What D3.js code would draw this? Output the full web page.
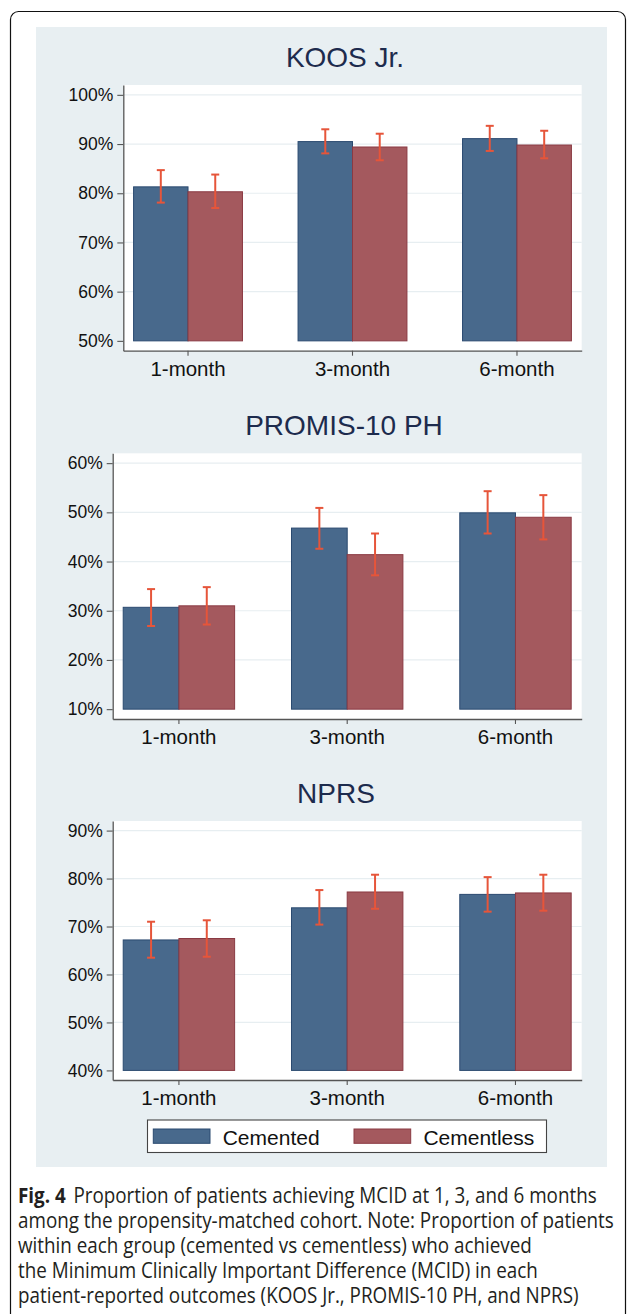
<!DOCTYPE html>
<html>
<head>
<meta charset="utf-8">
<script src="https://cdn.jsdelivr.net/npm/d3@7"></script>
<style>
  body { margin: 0; background: #fff; }
  svg text { font-family: "Liberation Sans", Arial, Helvetica, sans-serif; }
</style>
</head>
<body>
<div id="chart"></div>
<script>
// categories and series
var months = ["1-month", "3-month", "6-month"];
var groups = ["Cemented", "Cementless"];

// KOOS Jr. (percent achieving MCID, with 95% CI)
var koosCemented = [81.3, 90.5, 91.1];
var koosCementedLo = [78.1, 88.1, 88.6];
var koosCementedHi = [84.7, 93.0, 93.7];
var koosCementless = [80.3, 89.4, 89.8];
var koosCementlessLo = [77.0, 86.7, 87.1];
var koosCementlessHi = [83.8, 92.1, 92.7];
var koosTicks = [50, 60, 70, 80, 90, 100];

// PROMIS-10 PH
var promisCemented = [30.7, 46.8, 49.9];
var promisCementedLo = [26.9, 42.6, 45.7];
var promisCementedHi = [34.4, 50.9, 54.3];
var promisCementless = [31.0, 41.4, 49.0];
var promisCementlessLo = [27.2, 37.2, 44.5];
var promisCementlessHi = [34.8, 45.7, 53.5];
var promisTicks = [10, 20, 30, 40, 50, 60];

// NPRS
var nprsCemented = [67.2, 73.9, 76.7];
var nprsCementedLo = [63.5, 70.4, 73.1];
var nprsCementedHi = [71.0, 77.6, 80.3];
var nprsCementless = [67.5, 77.2, 77.0];
var nprsCementlessLo = [63.7, 73.7, 73.3];
var nprsCementlessHi = [71.3, 80.8, 80.8];
var nprsTicks = [40, 50, 60, 70, 80, 90];

var captionLines = [
  "among the propensity-matched cohort. Note: Proportion of patients",
  "within each group (cemented vs cementless) who achieved",
  "the Minimum Clinically Important Difference (MCID) in each",
  "patient-reported outcomes (KOOS Jr., PROMIS-10 PH, and NPRS)"
];

var svgW = 629;
var svgH = 1314;

var fillColor = { "Cemented": "#48698c", "Cementless": "#a4595e" };
var edgeColor = { "Cemented": "#2b4a70", "Cementless": "#8a3a43" };
var ciColor = "#e6553a";

var svg = d3.select("#chart")
  .append("svg")
  .attr("width", svgW)
  .attr("height", svgH);

// outer frame and graph region
svg.append("rect")
  .attr("x", 10.5).attr("y", 11.5)
  .attr("width", 615).attr("height", 1310)
  .attr("rx", 8)
  .attr("fill", "none")
  .attr("stroke", "#111")
  .attr("stroke-width", 1.2);

svg.append("rect")
  .attr("x", 36).attr("y", 27)
  .attr("width", 571).attr("height", 1140)
  .attr("fill", "#e8eff2");

var panels = [
  { title: "KOOS Jr.", ticks: koosTicks,
    values: [koosCemented, koosCementless],
    lo: [koosCementedLo, koosCementlessLo],
    hi: [koosCementedHi, koosCementlessHi],
    box: { left: 123.3, right: 581.7, top: 85, bottom: 350.7 }, titleX: 345 },
  { title: "PROMIS-10 PH", ticks: promisTicks,
    values: [promisCemented, promisCementless],
    lo: [promisCementedLo, promisCementlessLo],
    hi: [promisCementedHi, promisCementlessHi],
    box: { left: 112.7, right: 581.7, top: 453.3, bottom: 719 }, titleX: 344 },
  { title: "NPRS", ticks: nprsTicks,
    values: [nprsCemented, nprsCementless],
    lo: [nprsCementedLo, nprsCementlessLo],
    hi: [nprsCementedHi, nprsCementlessHi],
    box: { left: 112.7, right: 581.7, top: 821, bottom: 1080 }, titleX: 336 }
];

panels.forEach(function(p) {
  var b = p.box;
  var tMin = d3.min(p.ticks), tMax = d3.max(p.ticks);
  var pad = (tMax - tMin) * 0.04;

  var y = d3.scaleLinear()
    .domain([tMin - pad, tMax + pad])
    .range([b.bottom, b.top]);

  var x = d3.scaleBand()
    .domain(months)
    .range([b.left, b.right])
    .paddingInner(0.338)
    .paddingOuter(0.0625);

  var xSub = d3.scaleBand()
    .domain(groups)
    .range([0, x.bandwidth()]);

  // title
  svg.append("text")
    .attr("x", p.titleX)
    .attr("y", b.top - 18)
    .attr("text-anchor", "middle")
    .attr("font-size", "28px")
    .attr("fill", "#1d2b4d")
    .text(p.title);

  // plot region
  svg.append("rect")
    .attr("x", b.left).attr("y", b.top)
    .attr("width", b.right - b.left).attr("height", b.bottom - b.top)
    .attr("fill", "#fff");

  // gridlines
  svg.append("g")
    .selectAll("line")
    .data(p.ticks.slice(1))
    .enter()
    .append("line")
    .attr("x1", b.left).attr("x2", b.right)
    .attr("y1", d => y(d)).attr("y2", d => y(d))
    .attr("stroke", "#e7eef1")
    .attr("stroke-width", 1.2);

  // bars
  var rows = [];
  months.forEach(function(m, i) {
    groups.forEach(function(g, j) {
      rows.push({ month: m, group: g, v: p.values[j][i], lo: p.lo[j][i], hi: p.hi[j][i] });
    });
  });

  svg.append("g")
    .selectAll("rect")
    .data(rows)
    .enter()
    .append("rect")
    .attr("x", d => x(d.month) + xSub(d.group))
    .attr("y", d => y(d.v))
    .attr("width", xSub.bandwidth())
    .attr("height", d => y(tMin) - y(d.v))
    .attr("fill", d => fillColor[d.group])
    .attr("stroke", d => edgeColor[d.group])
    .attr("stroke-width", 1);

  // confidence intervals
  var ci = svg.append("g")
    .selectAll("g")
    .data(rows)
    .enter()
    .append("g")
    .attr("stroke", ciColor)
    .attr("stroke-width", 2);

  var cx = d => x(d.month) + xSub(d.group) + xSub.bandwidth() / 2;

  ci.append("line")
    .attr("x1", cx).attr("x2", cx)
    .attr("y1", d => y(d.lo)).attr("y2", d => y(d.hi));
  ci.append("line")
    .attr("x1", d => cx(d) - 4).attr("x2", d => cx(d) + 4)
    .attr("y1", d => y(d.hi)).attr("y2", d => y(d.hi));
  ci.append("line")
    .attr("x1", d => cx(d) - 4).attr("x2", d => cx(d) + 4)
    .attr("y1", d => y(d.lo)).attr("y2", d => y(d.lo));

  // axes
  var leftAxis = d3.axisLeft(y)
    .tickValues(p.ticks)
    .tickFormat(d => d + "%")
    .tickSize(6)
    .tickSizeOuter(0)
    .tickPadding(4);

  var yAxis = svg.append("g")
    .attr("transform", `translate(${b.left}, 0)`)
    .call(leftAxis);

  yAxis.selectAll("text")
    .attr("font-size", "17.5px")
    .attr("fill", "#111");

  var bottomAxis = d3.axisBottom(x)
    .tickSize(5)
    .tickSizeOuter(0)
    .tickPadding(5.5);

  var xAxis = svg.append("g")
    .attr("transform", `translate(0, ${b.bottom})`)
    .call(bottomAxis);

  xAxis.selectAll("text")
    .attr("font-size", "20.5px")
    .attr("fill", "#111");

  [yAxis, xAxis].forEach(function(a) {
    a.select(".domain").attr("stroke", "#555").attr("stroke-width", 1.3);
    a.selectAll(".tick line").attr("stroke", "#555").attr("stroke-width", 1.1);
  });
});

// legend
var legend = svg.append("g");
legend.append("rect")
  .attr("x", 147.5).attr("y", 1120)
  .attr("width", 399).attr("height", 32.5)
  .attr("fill", "#fff")
  .attr("stroke", "#444")
  .attr("stroke-width", 1.1);

var legendX = d3.scaleOrdinal().domain(groups).range([153.3, 354]);

var item = legend.selectAll("g.item")
  .data(groups)
  .enter()
  .append("g")
  .attr("class", "item")
  .attr("transform", d => `translate(${legendX(d)}, 1129)`);

item.append("rect")
  .attr("width", 56.7).attr("height", 14.3)
  .attr("fill", d => fillColor[d])
  .attr("stroke", d => edgeColor[d])
  .attr("stroke-width", 1);

item.append("text")
  .attr("x", 69.4).attr("y", 16)
  .attr("font-size", "21px")
  .attr("fill", "#111")
  .text(d => d);

// caption
var capFont = "'Open Sans', 'Noto Sans', sans-serif";
var cap = svg.append("g")
  .attr("font-size", "22px")
  .attr("fill", "#231f20");

var first = cap.append("text")
  .attr("x", 0).attr("y", 1203)
  .style("font-family", capFont);
first.append("tspan").attr("font-weight", "bold").text("Fig. 4");
first.append("tspan").attr("dx", 9).text("Proportion of patients achieving MCID at 1, 3, and 6 months");

cap.selectAll("text.line")
  .data(captionLines)
  .enter()
  .append("text")
  .attr("class", "line")
  .style("font-family", capFont)
  .attr("x", 0)
  .attr("y", (d, i) => 1203 + (i + 1) * 25)
  .text(d => d);

// squeeze the caption to the width of the printed text block
var natural = cap.select("text.line").node().getComputedTextLength();
var sx = 596 / natural;
cap.attr("transform", `translate(18, 0) scale(${sx}, 1)`);
</script>
</body>
</html>
